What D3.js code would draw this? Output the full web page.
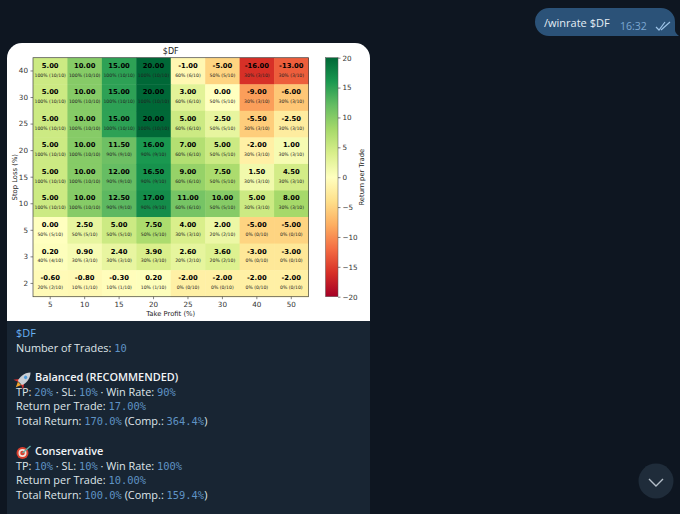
<!DOCTYPE html>
<html>
<head>
<meta charset="utf-8">
<script src="https://cdn.jsdelivr.net/npm/d3@7"></script>
<style>
  html, body { margin: 0; padding: 0; background: #0e1621; overflow: hidden; }
  svg { display: block; }
  .mpl { font-family: "DejaVu Sans"; }
  .msg { font-family: "Open Sans"; font-size: 10.9px; fill: #dfe5ea; }
  .code { font-family: "DejaVu Sans Mono"; font-size: 10.4px; fill: #5f93c4; }
</style>
</head>
<body>
<script>
var takeProfit = [5, 10, 15, 20, 25, 30, 40, 50];
var stopLoss = [40, 30, 25, 20, 15, 10, 5, 3, 2];

var returns = [
  [5, 10, 15, 20, -1, -5, -16, -13],
  [5, 10, 15, 20, 3, 0, -9, -6],
  [5, 10, 15, 20, 5, 2.5, -5.5, -2.5],
  [5, 10, 11.5, 16, 7, 5, -2, 1],
  [5, 10, 12, 16.5, 9, 7.5, 1.5, 4.5],
  [5, 10, 12.5, 17, 11, 10, 5, 8],
  [0, 2.5, 5, 7.5, 4, 2, -5, -5],
  [0.2, 0.9, 2.4, 3.9, 2.6, 3.6, -3, -3],
  [-0.6, -0.8, -0.3, 0.2, -2, -2, -2, -2]
];
var wins = [
  [10, 10, 10, 10, 6, 5, 3, 3],
  [10, 10, 10, 10, 6, 5, 3, 3],
  [10, 10, 10, 10, 6, 5, 3, 3],
  [10, 10, 9, 9, 6, 5, 3, 3],
  [10, 10, 9, 9, 6, 5, 3, 3],
  [10, 10, 9, 9, 6, 5, 3, 3],
  [5, 5, 5, 5, 3, 2, 0, 0],
  [4, 3, 3, 3, 2, 2, 0, 0],
  [2, 1, 1, 1, 0, 0, 0, 0]
];
var totalTrades = 10;
var colorTicks = [-20, -15, -10, -5, 0, 5, 10, 15, 20];

// [text, kind] runs, one list per line of the message
var messageLines = [
  { y: 337, x: 16, runs: [['$DF', 'title']] },
  { y: 352, x: 16, runs: [['Number of Trades: ', 0], ['10', 1]] },
  { y: 381, x: 35, runs: [['Balanced (RECOMMENDED)', 'head']] },
  { y: 396, x: 16, runs: [['TP: ', 0], ['20%', 1], [' · SL: ', 0], ['10%', 1], [' · Win Rate: ', 0], ['90%', 1]] },
  { y: 410, x: 16, runs: [['Return per Trade: ', 0], ['17.00%', 1]] },
  { y: 425, x: 16, runs: [['Total Return: ', 0], ['170.0%', 1], [' (Comp.: ', 0], ['364.4%', 1], [')', 0]] },
  { y: 455, x: 35, runs: [['Conservative', 'head']] },
  { y: 470, x: 16, runs: [['TP: ', 0], ['10%', 1], [' · SL: ', 0], ['10%', 1], [' · Win Rate: ', 0], ['100%', 1]] },
  { y: 484, x: 16, runs: [['Return per Trade: ', 0], ['10.00%', 1]] },
  { y: 499, x: 16, runs: [['Total Return: ', 0], ['100.0%', 1], [' (Comp.: ', 0], ['159.4%', 1], [')', 0]] }
];

var svg = d3.select('body').append('svg').attr('width', 680).attr('height', 514);

// message bubbles
svg.append('path')
  .attr('d', 'M7 514V58a15 15 0 0 1 15-15H355a15 15 0 0 1 15 15V514Z')
  .attr('fill', '#182533');
svg.append('path')
  .attr('d', 'M7 321V58a15 15 0 0 1 15-15H355a15 15 0 0 1 15 15V321Z')
  .attr('fill', '#ffffff');
svg.append('path')
  .attr('d', 'M549 8H661a14 14 0 0 1 14 14V30q0 3 4 6H549a14 14 0 0 1 0-28Z')
  .attr('fill', '#2b5278');
svg.append('text').attr('x', 544).attr('y', 27)
  .style('font-family', 'Open Sans').style('font-size', '11px').attr('fill', '#e4edf5')
  .text('/winrate $DF');
svg.append('text').attr('x', 620).attr('y', 30)
  .style('font-family', 'Open Sans').style('font-size', '10.5px').attr('fill', '#7da8d3')
  .text('16:32');
svg.append('path').attr('d', 'M656 27l3 3 6-8M661 30l9-8')
  .attr('fill', 'none').attr('stroke', '#9cc2e6').attr('stroke-width', 1.2);

// scroll down button
svg.append('circle').attr('cx', 656).attr('cy', 481).attr('r', 17.500).attr('fill', '#1f2c3a');
svg.append('path').attr('d', 'M649 479l7 7 7-7').attr('fill', 'none')
  .attr('stroke', '#b4bec8').attr('stroke-width', 1.400);

// heatmap
var plot = { left: 33, right: 308.5, top: 57.700, bottom: 296.700 };
var x = d3.scaleBand().domain(takeProfit).range([plot.left, plot.right]);
var y = d3.scaleBand().domain(stopLoss).range([plot.top, plot.bottom]);
var colorStops = d3.schemeRdYlGn[11];
var interp = d3.piecewise(d3.interpolateRgb, colorStops);
var color = d3.scaleSequential(interp).domain([-20, 20]);

var chart = svg.append('g').attr('class', 'mpl');

var cells = [];
returns.forEach(function(row, r) {
  row.forEach(function(v, c) {
    cells.push({ tp: takeProfit[c], sl: stopLoss[r], value: v, wins: wins[r][c] });
  });
});

chart.selectAll('rect.cell').data(cells).enter().append('rect')
  .attr('class', 'cell')
  .attr('x', function(d) { return x(d.tp); })
  .attr('y', function(d) { return y(d.sl); })
  .attr('width', x.bandwidth() + 0.5)
  .attr('height', y.bandwidth() + 0.5)
  .attr('fill', function(d) { return color(d.value); });

chart.selectAll('text.val').data(cells).enter().append('text')
  .attr('class', 'val')
  .attr('x', function(d) { return x(d.tp) + x.bandwidth() / 2; })
  .attr('y', function(d) { return y(d.sl) + 10; })
  .attr('text-anchor', 'middle')
  .style('font-size', '6.8px').style('font-weight', 'bold').attr('fill', '#000')
  .text(function(d) { return d.value.toFixed(2); });

chart.selectAll('text.pct').data(cells).enter().append('text')
  .attr('class', 'pct')
  .attr('x', function(d) { return x(d.tp) + x.bandwidth() / 2; })
  .attr('y', function(d) { return y(d.sl) + 18.8; })
  .attr('text-anchor', 'middle')
  .style('font-size', '4.6px').attr('fill', '#222')
  .text(function(d) {
    return Math.round(d.wins / totalTrades * 100) + '% (' + d.wins + '/' + totalTrades + ')';
  });

var xAxis = chart.append('g').attr('transform', 'translate(0,' + plot.bottom + ')')
  .call(d3.axisBottom(x).tickSize(2.500).tickPadding(2.500));
var yAxis = chart.append('g').attr('transform', 'translate(' + plot.left + ',0)')
  .call(d3.axisLeft(y).tickSize(2.500).tickPadding(2.500));
[xAxis, yAxis].forEach(function(a) {
  a.select('.domain').remove();
  a.selectAll('text').style('font-family', 'DejaVu Sans').style('font-size', '7.2px').attr('fill', '#333');
  a.selectAll('line').attr('stroke', '#333').attr('stroke-width', 0.6);
});

chart.append('rect')
  .attr('x', plot.left).attr('y', plot.top)
  .attr('width', plot.right - plot.left).attr('height', plot.bottom - plot.top)
  .attr('fill', 'none').attr('stroke', '#444').attr('stroke-width', 0.7);

chart.append('text').attr('x', (plot.left + plot.right) / 2).attr('y', 53.5)
  .attr('text-anchor', 'middle').style('font-size', '8px').attr('fill', '#222').text('$DF');
chart.append('text').attr('x', (plot.left + plot.right) / 2).attr('y', 316)
  .attr('text-anchor', 'middle').style('font-size', '6.8px').attr('fill', '#222').text('Take Profit (%)');
chart.append('text')
  .attr('transform', 'translate(17,' + (plot.top + plot.bottom) / 2 + ') rotate(-90)')
  .attr('text-anchor', 'middle').style('font-size', '6.8px').attr('fill', '#222').text('Stop Loss (%)');

// colorbar
var barLeft = 325.500, barWidth = 12.500;
var cScale = d3.scaleLinear().domain([-20, 20]).range([plot.bottom, plot.top]);
var grad = svg.append('defs').append('linearGradient').attr('id', 'cbar')
  .attr('x1', 0).attr('x2', 0).attr('y1', 1).attr('y2', 0);
colorStops.forEach(function(c, i) {
  grad.append('stop').attr('offset', i / (colorStops.length - 1)).attr('stop-color', c);
});
chart.append('rect').attr('x', barLeft).attr('y', plot.top)
  .attr('width', barWidth).attr('height', plot.bottom - plot.top)
  .attr('fill', 'url(#cbar)').attr('stroke', '#555').attr('stroke-width', 0.5);
var cAxis = chart.append('g').attr('transform', 'translate(' + (barLeft + barWidth) + ',0)')
  .call(d3.axisRight(cScale).tickValues(colorTicks).tickSize(2.500).tickPadding(2)
    .tickFormat(function(d) { return d < 0 ? '\u2212' + (-d) : d; }));
cAxis.select('.domain').remove();
cAxis.selectAll('text').style('font-family', 'DejaVu Sans').style('font-size', '7.2px').attr('fill', '#333');
cAxis.selectAll('line').attr('stroke', '#333').attr('stroke-width', 0.6);
chart.append('text')
  .attr('transform', 'translate(363.500,' + (plot.top + plot.bottom) / 2 + ') rotate(-90)')
  .attr('text-anchor', 'middle').style('font-size', '6.8px').attr('fill', '#222').text('Return per Trade');

// message text
var lines = svg.selectAll('text.msg').data(messageLines).enter().append('text')
  .attr('class', 'msg')
  .attr('x', function(d) { return d.x; })
  .attr('y', function(d) { return d.y; });
lines.each(function(d) {
  var t = d3.select(this);
  d.runs.forEach(function(run) {
    var s = t.append('tspan').text(run[0]).style('white-space', 'pre');
    if (run[1] === 1) s.attr('class', 'code');
    if (run[1] === 'title') s.style('fill', '#6ab2f2');
    if (run[1] === 'head') s.style('font-weight', 600).style('fill', '#f1f4f7');
  });
});

// rocket icon
var rocket = svg.append('g').attr('transform', 'translate(24,379) rotate(45) scale(1.15)');
rocket.append('path').attr('d', 'M-3 3 L-6 7 L-1 5Z M3 3 L6 7 L1 5Z').attr('fill', '#d8322e');
rocket.append('path').attr('d', 'M0 -8 C4 -4 4 2 2.500 5 H-2.500 C-4 2 -4 -4 0 -8Z').attr('fill', '#c9ced4');
rocket.append('circle').attr('cy', -2).attr('r', 1.500).attr('fill', '#4f9bd9');
rocket.append('path').attr('d', 'M-2 5.500 L0 10 L2 5.500Z').attr('fill', '#f2a22c');

// target icon
var dart = svg.append('g').attr('transform', 'translate(22.500,453)');
[[6, '#d8402f'], [4, '#f3e3dc'], [2.300, '#d8402f']].forEach(function(ring) {
  dart.append('circle').attr('r', ring[0]).attr('fill', ring[1]);
});
dart.append('path').attr('d', 'M0 0L8 -7').attr('stroke', '#5fb0a8').attr('stroke-width', 1.300);
</script>
</body>
</html>
